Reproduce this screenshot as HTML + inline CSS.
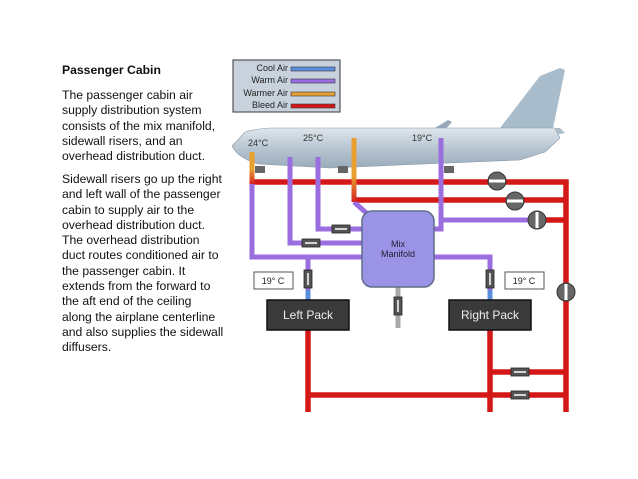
<!DOCTYPE html>
<html><head><style>
body{margin:0;width:638px;height:479px;background:#fff;overflow:hidden;position:relative;font-family:"Liberation Sans",sans-serif}
.t{position:absolute;left:62px;font-size:12.2px;line-height:15.3px;color:#111}
</style></head><body>
<div class="t" style="top:63px;font-weight:bold">Passenger Cabin</div>
<div class="t" style="top:88px">The passenger cabin air<br>supply distribution system<br>consists of the mix manifold,<br>sidewall risers, and an<br>overhead distribution duct.</div>
<div class="t" style="top:172px">Sidewall risers go up the right<br>and left wall of the passenger<br>cabin to supply air to the<br>overhead distribution duct.<br>The overhead distribution<br>duct routes conditioned air to<br>the passenger cabin. It<br>extends from the forward to<br>the aft end of the ceiling<br>along the airplane centerline<br>and also supplies the sidewall<br>diffusers.</div>
<svg width="638" height="479" style="position:absolute;left:0;top:0" font-family="Liberation Sans, sans-serif">
<defs>
<linearGradient id="og1" gradientUnits="userSpaceOnUse" x1="0" y1="152" x2="0" y2="184"><stop offset="0.55" stop-color="#e8a030"/><stop offset="1" stop-color="#d42020"/></linearGradient>
<linearGradient id="og2" gradientUnits="userSpaceOnUse" x1="0" y1="138" x2="0" y2="202"><stop offset="0.6" stop-color="#e8a030"/><stop offset="1" stop-color="#d42020"/></linearGradient>
<linearGradient id="pl" x1="0" y1="0" x2="0" y2="1"><stop offset="0" stop-color="#dfe6ec"/><stop offset="0.5" stop-color="#b8c6d2"/><stop offset="1" stop-color="#9aabba"/></linearGradient></defs>
<!-- legend -->
<rect x="233" y="60" width="107" height="52" fill="#c8d2dc" stroke="#555" stroke-width="1.2"/>
<g font-size="9" text-anchor="end" fill="#222"><text x="288" y="71">Cool Air</text><text x="288" y="83">Warm Air</text><text x="288" y="96">Warmer Air</text><text x="288" y="108">Bleed Air</text></g>
<rect x="291" y="67" width="44" height="4" fill="#5b8fdc" stroke="#334" stroke-width=".6"/>
<rect x="291" y="79" width="44" height="4" fill="#9b6ee0" stroke="#334" stroke-width=".6"/>
<rect x="291" y="92" width="44" height="4" fill="#e8a030" stroke="#334" stroke-width=".6"/>
<rect x="291" y="104" width="44" height="4" fill="#d41818" stroke="#334" stroke-width=".6"/>
<!-- plane -->
<path d="M500,128 L540,76 L560,68 L565,70 L553,128 Z" fill="#a9bccb"/>
<path d="M500,128 L560,128 L565,133 L540,138 L500,136Z" fill="#aebfcc"/>
<path d="M430,131 L448,120 L452,122 L442,133Z" fill="#98aaba"/>
<path d="M245,132 Q238,140 232,146 Q238,158 258,164 L330,168 L400,165 L520,160 L545,152 L560,138 L555,128 L270,128 Q255,129 245,132Z" fill="url(#pl)" stroke="#8a9aa8" stroke-width=".6"/>
<g font-size="9" fill="#333"><text x="248" y="146">24°C</text><text x="303" y="141">25°C</text><text x="412" y="141">19°C</text></g>
<!-- red pipes -->
<g fill="none" stroke="#d41818" stroke-width="5.5">
<path d="M252,182 H566 V412"/>
<path d="M354,200 H566"/>
<path d="M537,220 H566"/>
<path d="M308,330 V412"/>
<path d="M490,330 V412"/>
<path d="M308,395 H566"/>
<path d="M490,372 H566"/>
</g>
<!-- purple pipes -->
<g fill="none" stroke="#9b6ee0" stroke-width="5">
<path d="M252,184 V257 H364"/>
<path d="M290,157 V243 H364"/>
<path d="M318,157 V229 H364"/>
<path d="M441,138 V229 H432"/>
<path d="M441,220 H537"/>
<path d="M432,257 H490 V298"/>
<path d="M308,257 V298"/>
<path d="M354,202 L372,218"/>
</g>
<path d="M252,152 V184" stroke="url(#og1)" stroke-width="5"/>
<path d="M354,138 V202" stroke="url(#og2)" stroke-width="5"/>
<g stroke="#5b8fdc" stroke-width="5"><path d="M308,290 V301"/><path d="M490,290 V301"/></g>
<path d="M398,287 V328" stroke="#aaa" stroke-width="5"/>
<!-- manifold -->
<rect x="362" y="211" width="72" height="76" rx="10" fill="#9b94e6" stroke="#5e6e88" stroke-width="1.5"/>
<g font-size="9" fill="#223" text-anchor="middle"><text x="398" y="247">Mix</text><text x="398" y="257">Manifold</text></g>
<!-- inline valves -->
<g fill="#555" stroke="#222" stroke-width=".8">
<rect x="332" y="225" width="18" height="8"/><rect x="302" y="239" width="18" height="8"/>
<rect x="511" y="368" width="18" height="8"/><rect x="511" y="391" width="18" height="8"/>
<rect x="304" y="270" width="8" height="18"/><rect x="486" y="270" width="8" height="18"/><rect x="394" y="297" width="8" height="18"/>
</g>
<g stroke="#fff" stroke-width="1.5"><path d="M335,229 H347"/><path d="M305,243 H317"/><path d="M514,372 H526"/><path d="M514,395 H526"/><path d="M308,273 V285"/><path d="M490,273 V285"/><path d="M398,300 V312"/></g>
<!-- small checks at plane -->
<g fill="#666"><rect x="255" y="166" width="10" height="7"/><rect x="338" y="166" width="10" height="7"/><rect x="444" y="166" width="10" height="7"/></g>
<!-- round valves -->
<g fill="#666" stroke="#333" stroke-width="1">
<circle cx="497" cy="181" r="9"/><circle cx="515" cy="201" r="9"/><circle cx="537" cy="220" r="9"/><circle cx="566" cy="292" r="9"/></g>
<g stroke="#fff" stroke-width="3"><path d="M489,181 H505"/><path d="M507,201 H523"/><path d="M537,212 V228"/><path d="M566,284 V300"/></g>
<!-- temp boxes -->
<g fill="#fff" stroke="#555"><rect x="254" y="272" width="39" height="17"/><rect x="505" y="272" width="39" height="17"/></g>
<g font-size="9" fill="#222" text-anchor="middle"><text x="273" y="284">19° C</text><text x="524" y="284">19° C</text></g>
<!-- packs -->
<rect x="267" y="300" width="82" height="30" fill="#3a3a3a" stroke="#111" stroke-width="1.5"/>
<rect x="449" y="300" width="82" height="30" fill="#3a3a3a" stroke="#111" stroke-width="1.5"/>
<g font-size="12" fill="#eee" text-anchor="middle"><text x="308" y="319">Left Pack</text><text x="490" y="319">Right Pack</text></g>
</svg>
</body></html>
